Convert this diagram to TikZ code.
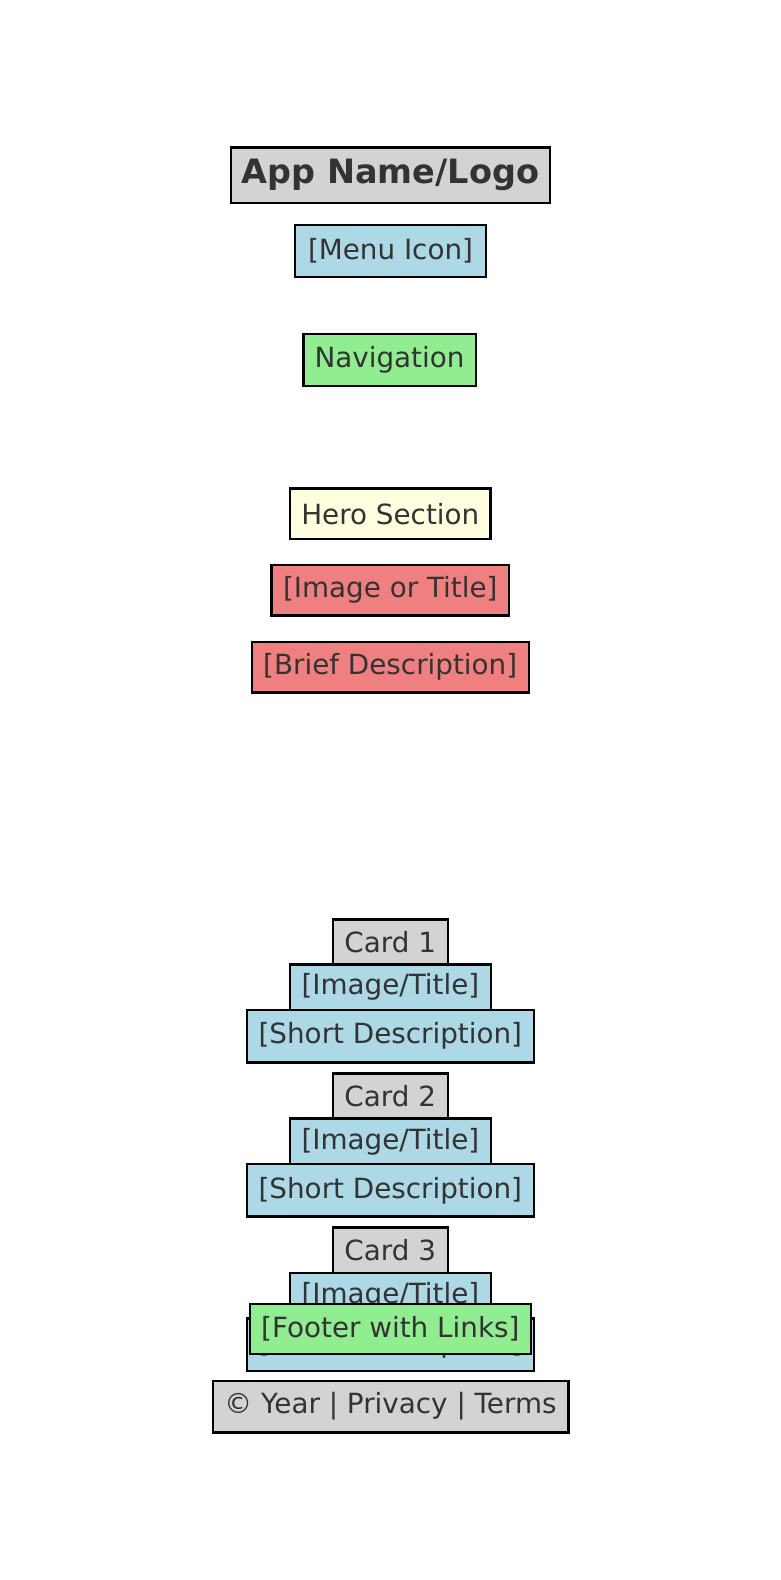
\documentclass[tikz,border=0pt]{standalone}
\usepackage{fontspec}
\setmainfont{DejaVu Sans}
\definecolor{txt}{HTML}{333333}
\definecolor{lgray}{HTML}{D3D3D3}
\definecolor{lblue}{HTML}{ADD8E6}
\definecolor{lgreen}{HTML}{90EE90}
\definecolor{lyellow}{HTML}{FFFFE0}
\definecolor{lcoral}{HTML}{F08080}
\tikzset{
  box/.style={draw=black, line width=2.4pt, inner sep=0pt, text=txt, align=center,
    font=\fontsize{27.8}{33}\selectfont},
  titlebox/.style={box, fill=lgray, font=\fontsize{33.5}{39}\selectfont\bfseries},
  graybox/.style={box, fill=lgray},
  bluebox/.style={box, fill=lblue},
  greenbox/.style={box, fill=lgreen},
  yellowbox/.style={box, fill=lyellow},
  coralbox/.style={box, fill=lcoral},
  sz/.style 2 args={minimum width=#1pt, minimum height=#2pt}
}
\begin{document}
\begin{tikzpicture}[x=1pt,y=-1pt]
\fill[white] (0,0) rectangle (780,1580);
\useasboundingbox (0,0) rectangle (780,1580);

\node[titlebox, sz={319.3}{55.4}] (title) at (390.35,175) {App Name/Logo};
\node[bluebox, sz={191}{51.7}] (menu) at (390.5,250.85) {[Menu Icon]};
\node[greenbox, sz={172.4}{52}] (nav) at (389.5,360) {Navigation};

\node[yellowbox, sz={200.7}{50.7}] (hero) at (390.3,513.7) {Hero Section};
\node[coralbox, sz={237.3}{50.7}] (heroimg) at (390.3,590.3) {[Image or Title]};
\node[coralbox, sz={277}{50.3}] (herodesc) at (390.2,667.2) {[Brief Description]};

\foreach \k/\n in {0/1,1/2,2/3}{
  \pgfmathsetmacro{\off}{154.15*\k}
  \node[graybox, sz={115}{45.2}] (card\n) at (390.2,941.9+\off) {Card \n};
  \node[bluebox, sz={200.7}{45.5}] (cardimg\n) at (390.35,987.25+\off) {[Image/Title]};
  \node[bluebox, sz={287.3}{52.5}] (carddesc\n) at (390.35,1036.25+\off) {[Short Description]};
}

\node[greenbox, sz={280.7}{50}] (footer) at (390.35,1329) {[Footer with Links]};
\node[graybox, sz={355.6}{51.6}] (copy) at (390.5,1406.5) {© Year | Privacy | Terms};
\end{tikzpicture}
\end{document}
